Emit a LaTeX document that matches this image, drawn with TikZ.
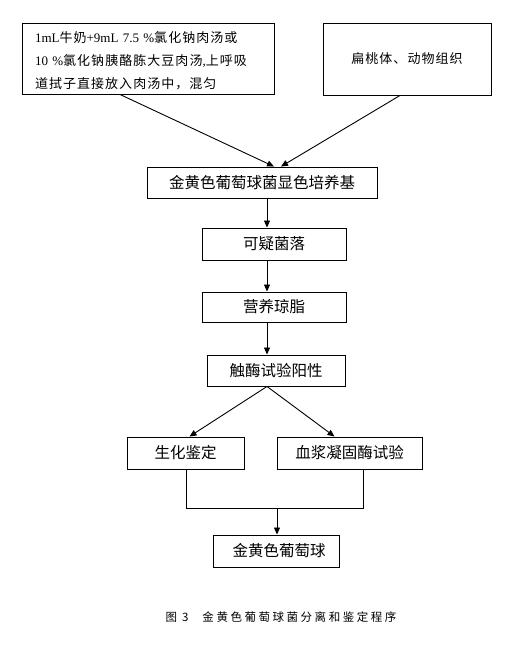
\documentclass[tikz,border=0pt]{standalone}
\usepackage{fontspec}
\setmainfont{Liberation Serif}
\newfontfamily\cjk{Noto Sans CJK SC}
\newfontfamily\cjkwide[LetterSpace=8]{Noto Sans CJK SC}
\newfontfamily\cjkcap[LetterSpace=22]{Noto Sans CJK SC}
\usetikzlibrary{arrows.meta}
\begin{document}
\begin{tikzpicture}[x=1pt,y=-1pt,
  stepbox/.style={draw=black,line width=0.95pt,inner sep=0pt,font=\cjk\fontsize{15.5}{18}\selectfont},
  conn/.style={line width=0.9pt},
  arr/.style={conn,-{Triangle[length=7pt,width=6pt]}}]
\useasboundingbox (0,0) rectangle (519,645);
\node[stepbox,minimum width=252pt,minimum height=71pt] (b1) at (148,58.5) {};
\node[align=left,text width=226pt,inner sep=0pt,
  font=\fontsize{13}{23}\selectfont] (b1t) at (148,61)
  {1mL{\cjkwide 牛奶}+9mL 7.5 \%{\cjkwide 氯化钠肉汤或}\\
   10 \%{\cjkwide 氯化钠胰酪胨大豆肉汤},{\cjkwide 上呼吸}\\
   {\cjkwide 道拭子直接放入肉汤中，混匀}};
\node[stepbox,minimum width=168pt,minimum height=72pt,font=\cjkwide\fontsize{13}{16}\selectfont] (b2) at (407,59) {扁桃体、动物组织};
\node[stepbox,minimum width=230pt,minimum height=31pt] (b3) at (262,182.5) {金黄色葡萄球菌显色培养基};
\node[stepbox,minimum width=144pt,minimum height=32pt] (b4) at (274,244) {可疑菌落};
\node[stepbox,minimum width=144pt,minimum height=30pt] (b5) at (274,307) {营养琼脂};
\node[stepbox,minimum width=138pt,minimum height=31pt] (b6) at (276,370.5) {触酶试验阳性};
\node[stepbox,minimum width=117pt,minimum height=32pt] (b7) at (185.5,453) {生化鉴定};
\node[stepbox,minimum width=145pt,minimum height=32pt] (b8) at (349.5,453) {血浆凝固酶试验};
\node[stepbox,minimum width=126pt,minimum height=32pt] (b9) at (276,551) {\hspace{6pt}金黄色葡萄球};
\node[font=\cjkcap\fontsize{11.5}{13}\selectfont] (cap) at (281,617) {图\hspace{5pt}3\hspace{14pt}金黄色葡萄球菌分离和鉴定程序};
\draw[arr] ([xshift=-28pt]b1.south) -- ([xshift=12pt]b3.north);
\draw[arr] ([xshift=-7pt]b2.south) -- ([xshift=19pt]b3.north);
\draw[arr] ([xshift=5pt]b3.south) -- ([xshift=-7pt]b4.north);
\draw[arr] ([xshift=-7pt]b4.south) -- ([xshift=-7pt]b5.north);
\draw[arr] ([xshift=-7pt]b5.south) -- ([xshift=-9pt]b6.north);
\draw[arr] ([xshift=-9pt]b6.south) -- ([xshift=4pt]b7.north);
\draw[arr] ([xshift=-9pt]b6.south) -- ([xshift=-15pt]b8.north);
\coordinate (jl) at ([xshift=0.5pt,yshift=-39pt]b7.south);
\coordinate (jr) at ([xshift=13.5pt,yshift=-39pt]b8.south);
\draw[conn] ([xshift=0.5pt]b7.south) -- (jl) -- (jr) -- ([xshift=13.5pt]b8.south);
\coordinate (jm) at ([xshift=1pt]b9.north |- jl);
\draw[arr] (jm) -- ([xshift=1pt]b9.north);
\end{tikzpicture}
\end{document}
